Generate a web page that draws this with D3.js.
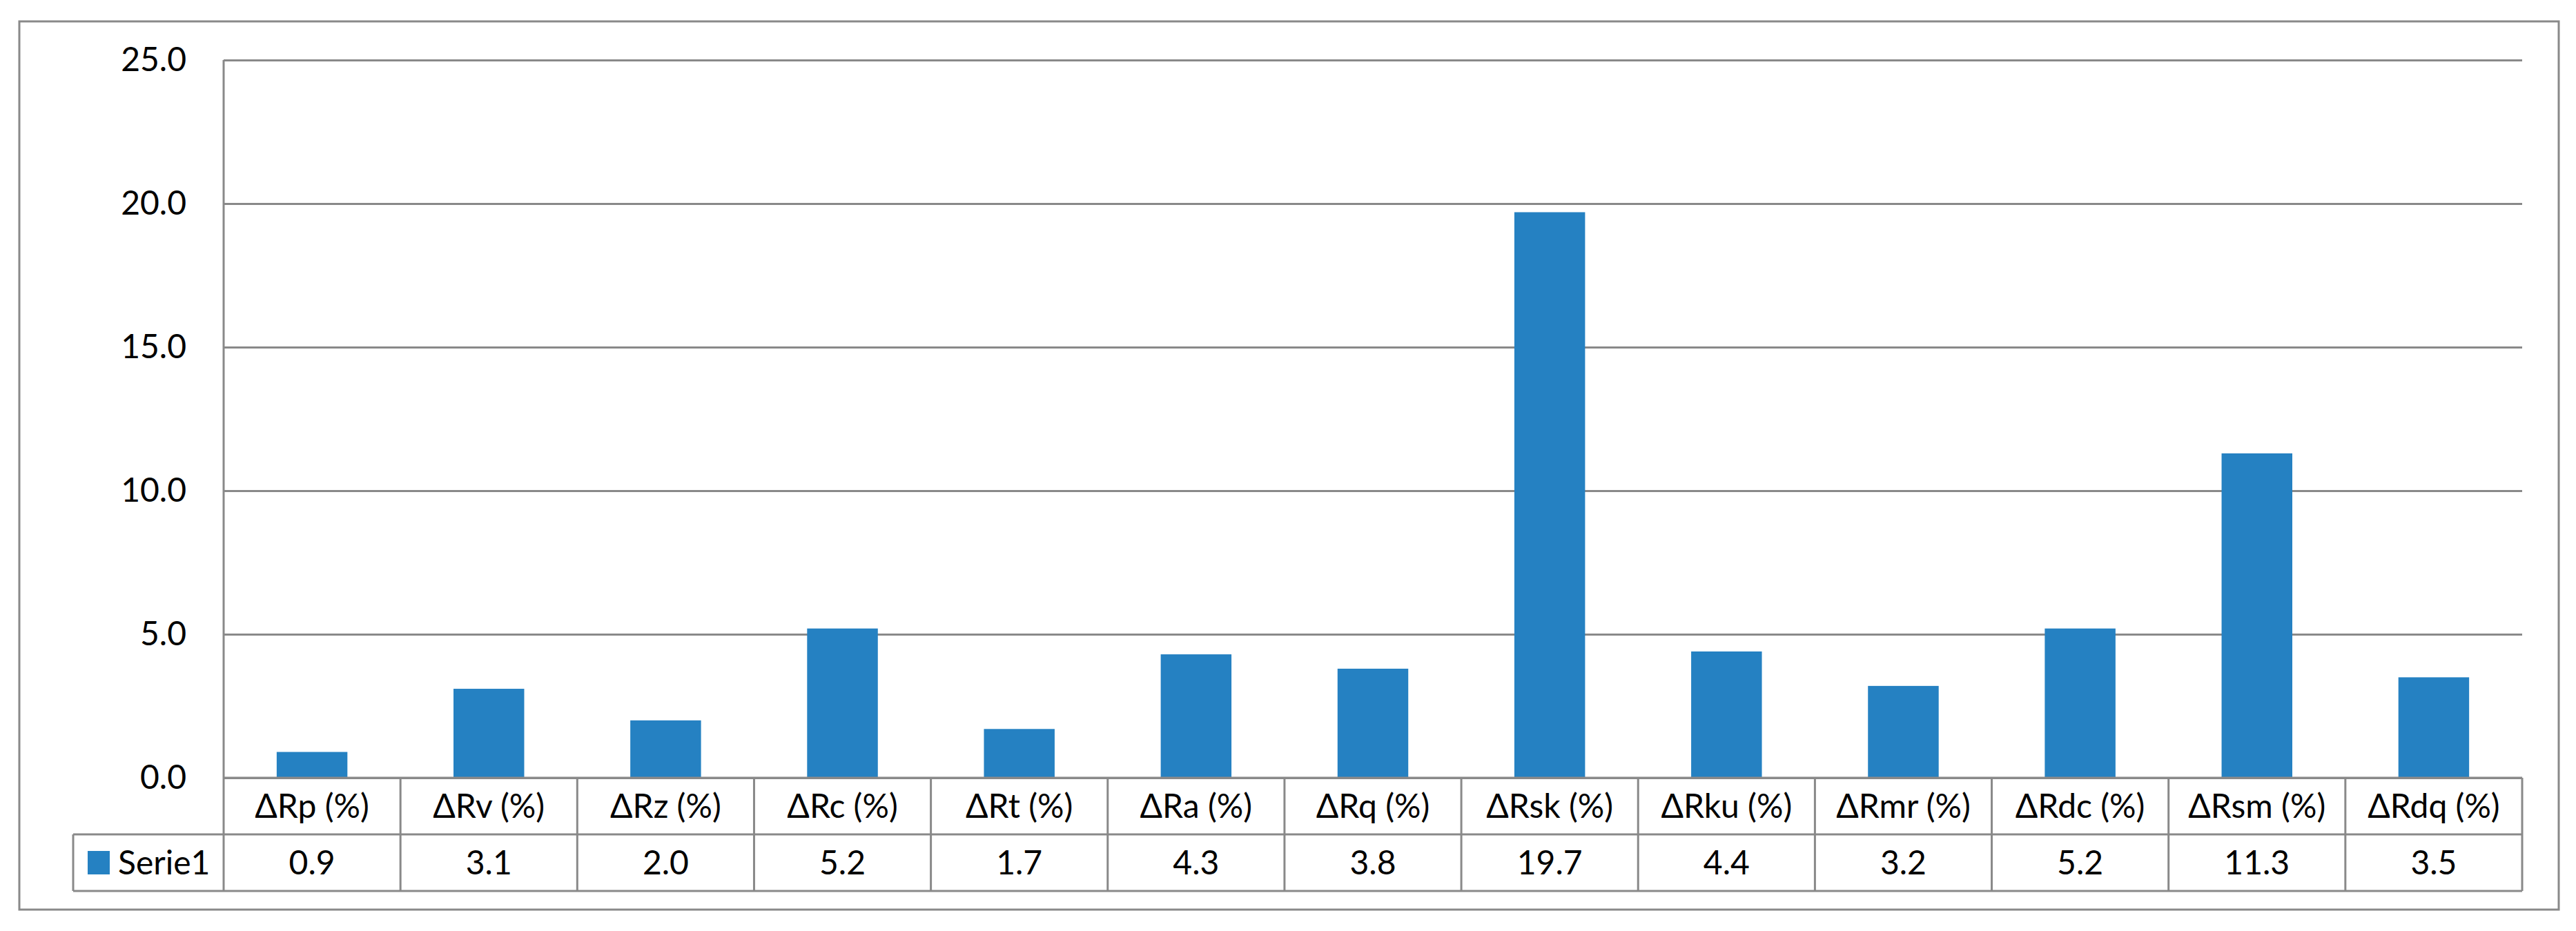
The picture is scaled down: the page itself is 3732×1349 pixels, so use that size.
<!DOCTYPE html>
<html>
<head>
<meta charset="utf-8">
<script src="https://cdn.jsdelivr.net/npm/d3@7"></script>
<style>
  body { margin: 0; background: #fff; }
  text { font-family: Lato, "Open Sans", sans-serif; fill: #000; }
</style>
</head>
<body>
<div id="chart"></div>
<script>
// chart data
var categories = ["ΔRp (%)", "ΔRv (%)", "ΔRz (%)", "ΔRc (%)", "ΔRt (%)", "ΔRa (%)", "ΔRq (%)",
                  "ΔRsk (%)", "ΔRku (%)", "ΔRmr (%)", "ΔRdc (%)", "ΔRsm (%)", "ΔRdq (%)"];
var serie1 = [0.9, 3.1, 2.0, 5.2, 1.7, 4.3, 3.8, 19.7, 4.4, 3.2, 5.2, 11.3, 3.5];
var seriesName = "Serie1";
var yTicks = [0, 5, 10, 15, 20, 25];

var svgWidth = 3732;
var svgHeight = 1349;

// plot area edges (pixels)
var plot = { left: 324, right: 3654, top: 87, bottom: 1127 };
var rowH = 82;            // height of each data-table row
var legendLeft = 106;     // left edge of the legend cell
var gridColor = "#898989";
var barColor = "#2581c2";
var fontSize = 48;

var svg = d3.select("#chart")
    .append("svg")
    .attr("width", svgWidth)
    .attr("height", svgHeight);

// outer chart frame
svg.append("rect")
    .attr("x", 28)
    .attr("y", 31)
    .attr("width", 3707 - 28)
    .attr("height", 1318 - 31)
    .attr("fill", "none")
    .attr("stroke", gridColor)
    .attr("stroke-width", 3);

var x = d3.scaleBand()
    .domain(categories)
    .range([plot.left, plot.right])
    .padding(0);

var y = d3.scaleLinear()
    .domain([0, 25])
    .range([plot.bottom, plot.top]);

// y axis with gridlines across the plot
var yAxis = d3.axisLeft(y)
    .tickValues(yTicks)
    .tickFormat(d3.format(".1f"))
    .tickSize(-(plot.right - plot.left))
    .tickPadding(54);

var yAxisGroup = svg.append("g")
    .attr("transform", `translate(${plot.left},0)`)
    .call(yAxis);

yAxisGroup.select(".domain").remove();
yAxisGroup.selectAll(".tick line")
    .attr("stroke", gridColor)
    .attr("stroke-width", 3);
yAxisGroup.selectAll(".tick text")
    .style("font-size", fontSize + "px")
    .style("font-family", "Lato, 'Open Sans', sans-serif")
    .attr("fill", "#000");

// vertical axis line, running down through the table
svg.append("line")
    .attr("x1", plot.left).attr("x2", plot.left)
    .attr("y1", plot.top).attr("y2", plot.bottom + 2 * rowH)
    .attr("stroke", gridColor)
    .attr("stroke-width", 3);

// bars
var barW = x.bandwidth() * 0.4;
svg.append("g")
    .selectAll("rect")
    .data(serie1)
    .enter()
    .append("rect")
    .attr("x", (d, i) => x(categories[i]) + (x.bandwidth() - barW) / 2)
    .attr("y", d => y(d))
    .attr("width", barW)
    .attr("height", d => y(0) - y(d))
    .attr("fill", barColor);

// data table
var table = svg.append("g");
var lineStyle = sel => sel.attr("stroke", gridColor).attr("stroke-width", 3);

// horizontal rules
table.append("line").attr("x1", plot.left).attr("x2", plot.right)
    .attr("y1", plot.bottom).attr("y2", plot.bottom).call(lineStyle);
table.append("line").attr("x1", legendLeft).attr("x2", plot.right)
    .attr("y1", plot.bottom + rowH).attr("y2", plot.bottom + rowH).call(lineStyle);
table.append("line").attr("x1", legendLeft).attr("x2", plot.right)
    .attr("y1", plot.bottom + 2 * rowH).attr("y2", plot.bottom + 2 * rowH).call(lineStyle);

// legend cell left edge
table.append("line").attr("x1", legendLeft).attr("x2", legendLeft)
    .attr("y1", plot.bottom + rowH).attr("y2", plot.bottom + 2 * rowH).call(lineStyle);

// column separators
table.selectAll(".sep")
    .data(categories)
    .enter()
    .append("line")
    .attr("class", "sep")
    .attr("x1", d => x(d) + x.bandwidth())
    .attr("x2", d => x(d) + x.bandwidth())
    .attr("y1", plot.bottom)
    .attr("y2", plot.bottom + 2 * rowH)
    .call(lineStyle);

// category labels
table.selectAll(".cat")
    .data(categories)
    .enter()
    .append("text")
    .attr("class", "cat")
    .attr("x", d => x(d) + x.bandwidth() / 2)
    .attr("y", plot.bottom + rowH / 2)
    .attr("dy", "0.35em")
    .attr("text-anchor", "middle")
    .style("font-size", fontSize + "px")
    .text(d => d);

// value labels
table.selectAll(".val")
    .data(serie1)
    .enter()
    .append("text")
    .attr("class", "val")
    .attr("x", (d, i) => x(categories[i]) + x.bandwidth() / 2)
    .attr("y", plot.bottom + rowH * 1.5)
    .attr("dy", "0.35em")
    .attr("text-anchor", "middle")
    .style("font-size", fontSize + "px")
    .text(d => d3.format(".1f")(d));

// legend key
table.append("rect")
    .attr("x", 127)
    .attr("y", plot.bottom + rowH * 1.5 - 17)
    .attr("width", 32)
    .attr("height", 34)
    .attr("fill", barColor);

table.append("text")
    .attr("x", 171)
    .attr("y", plot.bottom + rowH * 1.5)
    .attr("dy", "0.35em")
    .style("font-size", fontSize + "px")
    .text(seriesName);
</script>
</body>
</html>
